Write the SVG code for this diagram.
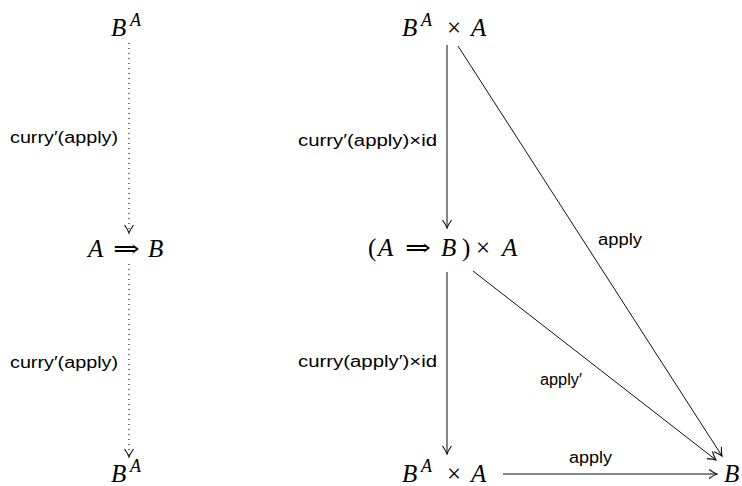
<svg xmlns="http://www.w3.org/2000/svg" width="742" height="486" viewBox="0 0 742 486">
<style>
.m{font-family:"Liberation Serif","DejaVu Serif",serif;font-size:25px;font-style:italic;fill:#000}
.s{font-family:"Liberation Serif","DejaVu Serif",serif;font-size:18px;font-style:italic;fill:#000}
.u{font-family:"Liberation Serif","DejaVu Serif",serif;font-size:25px;font-style:normal;fill:#000}
.l{font-family:"Liberation Sans","DejaVu Sans",sans-serif;font-size:16px;fill:#000}
.e{fill:none;stroke:#111;stroke-width:1}
.d{fill:none;stroke:#111;stroke-width:1.2;stroke-dasharray:1 4}
</style>
<defs>
<marker id="ah" markerWidth="12" markerHeight="12" refX="10" refY="6" orient="auto" markerUnits="userSpaceOnUse">
<path d="M2,1.5 Q7,5 10,6 Q7,7 2,10.5" fill="none" stroke="#111" stroke-width="1.1"/>
</marker>
</defs>
<g id="connectors">
<line class="d" x1="129" y1="43" x2="129" y2="233" marker-end="url(#ah)"/>
<line class="d" x1="129" y1="264" x2="129" y2="457" marker-end="url(#ah)"/>
<line class="e" x1="447" y1="45" x2="447" y2="228" marker-end="url(#ah)"/>
<line class="e" x1="447" y1="272" x2="447" y2="454" marker-end="url(#ah)"/>
<line class="e" x1="458" y1="46" x2="722" y2="456" marker-end="url(#ah)"/>
<line class="e" x1="473" y1="271" x2="716" y2="460" marker-end="url(#ah)"/>
<line class="e" x1="503" y1="474" x2="717" y2="474" marker-end="url(#ah)"/>
<text class="l" x="10" y="143" textLength="108" lengthAdjust="spacingAndGlyphs">curry′(apply)</text>
<text class="l" x="10" y="368" textLength="108" lengthAdjust="spacingAndGlyphs">curry′(apply)</text>
<text class="l" x="298" y="146" textLength="139" lengthAdjust="spacingAndGlyphs">curry′(apply)×id</text>
<text class="l" x="298" y="367" textLength="139" lengthAdjust="spacingAndGlyphs">curry(apply′)×id</text>
<text class="l" x="598" y="245" textLength="44" lengthAdjust="spacingAndGlyphs">apply</text>
<text class="l" x="540" y="385" textLength="42" lengthAdjust="spacingAndGlyphs">apply′</text>
<text class="l" x="569" y="463" textLength="43" lengthAdjust="spacingAndGlyphs">apply</text>
</g>
<g id="n1"><text class="m" x="111" y="36">B</text><text class="s" x="130" y="26">A</text></g>
<g id="n2"><text class="m" x="88" y="257">A</text><text class="u" x="113" y="257" textLength="27" lengthAdjust="spacingAndGlyphs">⇒</text><text class="m" x="148" y="257">B</text></g>
<g id="n3"><text class="m" x="111" y="482">B</text><text class="s" x="130" y="472">A</text></g>
<g id="n4"><text class="m" x="402" y="36">B</text><text class="s" x="421" y="26">A</text><text class="u" x="447" y="36">×</text><text class="m" x="471" y="36">A</text></g>
<g id="n5"><text class="u" x="368" y="256">(</text><text class="m" x="378" y="256">A</text><text class="u" x="405" y="256" textLength="26" lengthAdjust="spacingAndGlyphs">⇒</text><text class="m" x="441" y="256">B</text><text class="u" x="462" y="256">)</text><text class="u" x="476" y="256">×</text><text class="m" x="502" y="256">A</text></g>
<g id="n6"><text class="m" x="402" y="482">B</text><text class="s" x="421" y="472">A</text><text class="u" x="447" y="482">×</text><text class="m" x="471" y="482">A</text></g>
<g id="n7"><text class="m" x="724" y="482">B</text></g>
</svg>
